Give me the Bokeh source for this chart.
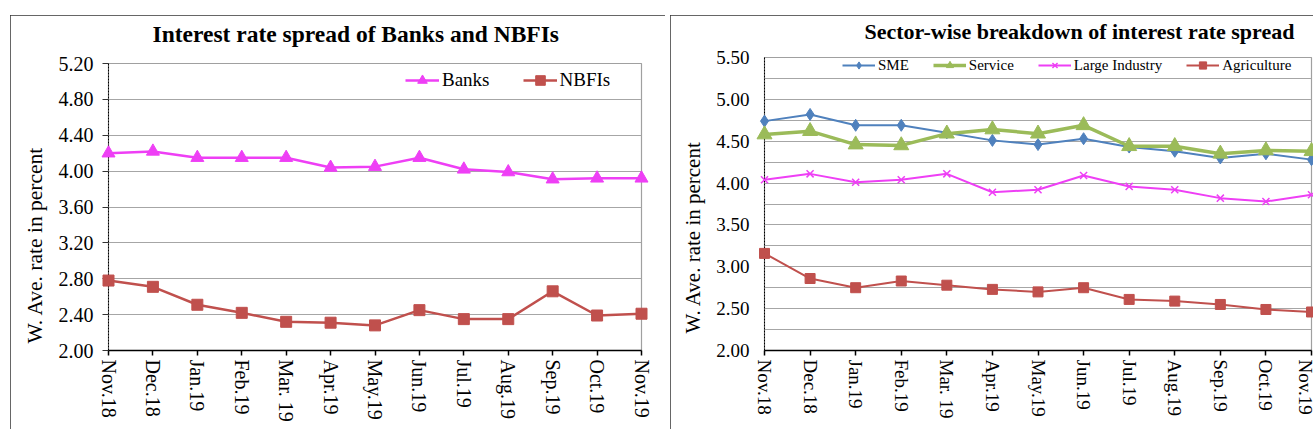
from bokeh.plotting import figure
from bokeh.models import Range1d, FixedTicker, PrintfTickFormatter, Legend, LegendItem, Title
from bokeh.layouts import row, column
from bokeh.embed import file_html
from bokeh.resources import INLINE

# ---------------- data ----------------
months = ["Nov.18", "Dec.18", "Jan.19", "Feb.19", "Mar. 19", "Apr.19", "May.19",
          "Jun.19", "Jul.19", "Aug.19", "Sep.19", "Oct.19", "Nov.19"]
idx = list(range(len(months)))

banks = [4.20, 4.22, 4.15, 4.15, 4.15, 4.04, 4.05, 4.15, 4.02, 3.99, 3.91, 3.92, 3.92]
nbfis = [2.78, 2.71, 2.51, 2.42, 2.32, 2.31, 2.28, 2.45, 2.35, 2.35, 2.66, 2.39, 2.41]

sme = [4.74, 4.82, 4.69, 4.69, 4.60, 4.51, 4.46, 4.53, 4.43, 4.38, 4.30, 4.35, 4.28]
service = [4.58, 4.62, 4.46, 4.45, 4.59, 4.64, 4.59, 4.69, 4.44, 4.44, 4.35, 4.39, 4.38]
large_industry = [4.04, 4.11, 4.01, 4.04, 4.11, 3.89, 3.92, 4.09, 3.96, 3.92, 3.82, 3.78, 3.86]
agriculture = [3.16, 2.86, 2.75, 2.83, 2.78, 2.73, 2.70, 2.75, 2.61, 2.59, 2.55, 2.49, 2.46]

left_yticks = [2.00, 2.40, 2.80, 3.20, 3.60, 4.00, 4.40, 4.80, 5.20]
right_yticks = [2.00, 2.50, 3.00, 3.50, 4.00, 4.50, 5.00, 5.50]
right_ygrid = [2.00, 2.25, 2.50, 2.75, 3.00, 3.25, 3.50, 3.75, 4.00, 4.25,
               4.50, 4.75, 5.00, 5.25, 5.50]

left_title = "Interest rate spread of Banks and NBFIs"
right_title = "Sector-wise breakdown of interest rate spread"
y_label = "W. Ave. rate in percent"

FONT = "Liberation Serif"
MAGENTA = "#EE3FF5"
RED = "#C0504D"
BLUE = "#4F81BD"
GREEN = "#9BBB59"


def style_axes(p, ytick_size, xtick_size, ytick_out, ystandoff):
    p.xgrid.visible = False
    p.outline_line_color = "#A0A0A0"
    p.outline_line_width = 1.2
    p.ygrid.grid_line_color = "#A6A6A6"
    p.ygrid.grid_line_width = 1.2

    xa = p.xaxis[0]
    xa.ticker = FixedTicker(ticks=idx)
    xa.major_label_overrides = {i: m for i, m in zip(idx, months)}
    xa.major_label_orientation = "vertical"
    xa.major_label_text_font = FONT
    xa.major_label_text_font_size = xtick_size
    xa.major_label_text_color = "#000000"
    xa.major_label_standoff = 4
    xa.axis_line_color = "#000000"
    xa.axis_line_width = 1.5
    xa.major_tick_line_color = "#000000"
    xa.major_tick_line_width = 1.5
    xa.major_tick_out = 5
    xa.major_tick_in = 0
    xa.minor_tick_line_color = None

    ya = p.yaxis[0]
    ya.formatter = PrintfTickFormatter(format="%.2f")
    ya.major_label_text_font = FONT
    ya.major_label_text_font_size = ytick_size
    ya.major_label_text_color = "#000000"
    ya.major_label_standoff = ystandoff
    ya.axis_line_color = "#000000"
    ya.axis_line_width = 1
    ya.axis_line_dash = "2 1"
    ya.major_tick_line_color = "#333333"
    ya.major_tick_out = ytick_out
    ya.major_tick_in = 0
    ya.minor_tick_line_color = None


def add_titles(p, title, t_size, t_offset, spacer_standoff, ylab_size, ylab_offset, ylab_standoff):
    # thin spacer (nearest to the frame) so the chart title sits higher
    p.add_layout(Title(text=" ", text_font_size="1px", standoff=spacer_standoff), "above")
    p.add_layout(Title(text=title, align="left", offset=t_offset, standoff=0,
                       text_font=FONT, text_font_size=t_size, text_font_style="bold",
                       text_color="#000000"), "above")
    p.add_layout(Title(text=y_label, align="left", offset=ylab_offset, standoff=ylab_standoff,
                       text_font=FONT, text_font_size=ylab_size, text_font_style="normal",
                       text_color="#000000"), "left")


# ---------------- left chart ----------------
p1 = figure(width=655, height=416, output_backend="svg", toolbar_location=None,
            x_range=Range1d(0, 12), y_range=Range1d(2.0, 5.2),
            min_border_left=98, min_border_right=24, min_border_top=48, min_border_bottom=81)
style_axes(p1, "20px", "20px", 6, 9)
p1.yaxis[0].ticker = FixedTicker(ticks=left_yticks)
p1.ygrid.ticker = FixedTicker(ticks=left_yticks)
add_titles(p1, left_title, "23.5px", 44, 13.5, "21.5px", 7, 18)

b_line = p1.line(idx, banks, line_color=MAGENTA, line_width=2.5)
b_mark = p1.scatter(idx, banks, marker="triangle", size=13, fill_color=MAGENTA,
                    line_color=MAGENTA, level="overlay")
n_line = p1.line(idx, nbfis, line_color=RED, line_width=2.5)
n_mark = p1.scatter(idx, nbfis, marker="square", size=11, fill_color=RED,
                    line_color=RED, level="overlay")

leg1 = Legend(items=[LegendItem(label="Banks", renderers=[b_line, b_mark]),
                     LegendItem(label="NBFIs", renderers=[n_line, n_mark])],
              orientation="horizontal", location=(297, 258), margin=0, padding=0,
              glyph_width=34, glyph_height=24, label_height=24, label_standoff=3, spacing=33,
              label_text_font=FONT, label_text_font_size="19px", label_text_color="#000000",
              background_fill_alpha=0, border_line_alpha=0)
p1.add_layout(leg1, "center")
p1.styles = {"outline": "1px solid #333333", "outline-offset": "-1px",
             "clip-path": "inset(0px 0px 2px 0px)"}

# ---------------- right chart ----------------
p2 = figure(width=645, height=416, output_backend="svg", toolbar_location=None,
            x_range=Range1d(0, 12), y_range=Range1d(2.0, 5.5),
            min_border_left=92, min_border_right=4, min_border_top=42, min_border_bottom=81)
style_axes(p2, "19px", "19px", 0, 15)
p2.yaxis[0].ticker = FixedTicker(ticks=right_yticks)
p2.ygrid.ticker = FixedTicker(ticks=right_ygrid)
add_titles(p2, right_title, "22px", 100, 10.5, "21px", 17, 17)

s_line = p2.line(idx, sme, line_color=BLUE, line_width=2)
s_mark = p2.scatter(idx, sme, marker="diamond", size=12, fill_color=BLUE,
                    line_color=BLUE, level="overlay")
v_line = p2.line(idx, service, line_color=GREEN, line_width=3.5)
v_mark = p2.scatter(idx, service, marker="triangle", size=15, fill_color=GREEN,
                    line_color=GREEN, level="overlay")
l_line = p2.line(idx, large_industry, line_color=MAGENTA, line_width=2)
l_mark = p2.scatter(idx, large_industry, marker="x", size=10, line_color=MAGENTA,
                    line_width=1.5, level="overlay")
a_line = p2.line(idx, agriculture, line_color=RED, line_width=2)
a_mark = p2.scatter(idx, agriculture, marker="square", size=10, fill_color=RED,
                    line_color=RED, level="overlay")

leg2 = Legend(items=[LegendItem(label="SME", renderers=[s_line, s_mark]),
                     LegendItem(label="Service", renderers=[v_line, v_mark]),
                     LegendItem(label="Large Industry", renderers=[l_line, l_mark]),
                     LegendItem(label="Agriculture", renderers=[a_line, a_mark])],
              orientation="horizontal", location=(78, 276), margin=0, padding=0,
              glyph_width=33, glyph_height=18, label_height=18, label_standoff=3, spacing=24,
              label_text_font=FONT, label_text_font_size="15px", label_text_color="#000000",
              background_fill_alpha=0, border_line_alpha=0)
p2.add_layout(leg2, "center")
p2.styles = {"outline": "1px solid #333333", "outline-offset": "-1px",
             "clip-path": "inset(0px 2px 2px 0px)"}

c1 = column(p1, margin=(15, 0, 0, 10))
c2 = column(p2, margin=(15, 0, 0, 5))
layout = row(c1, c2)
open("out.html", "w").write(file_html(layout, INLINE))
